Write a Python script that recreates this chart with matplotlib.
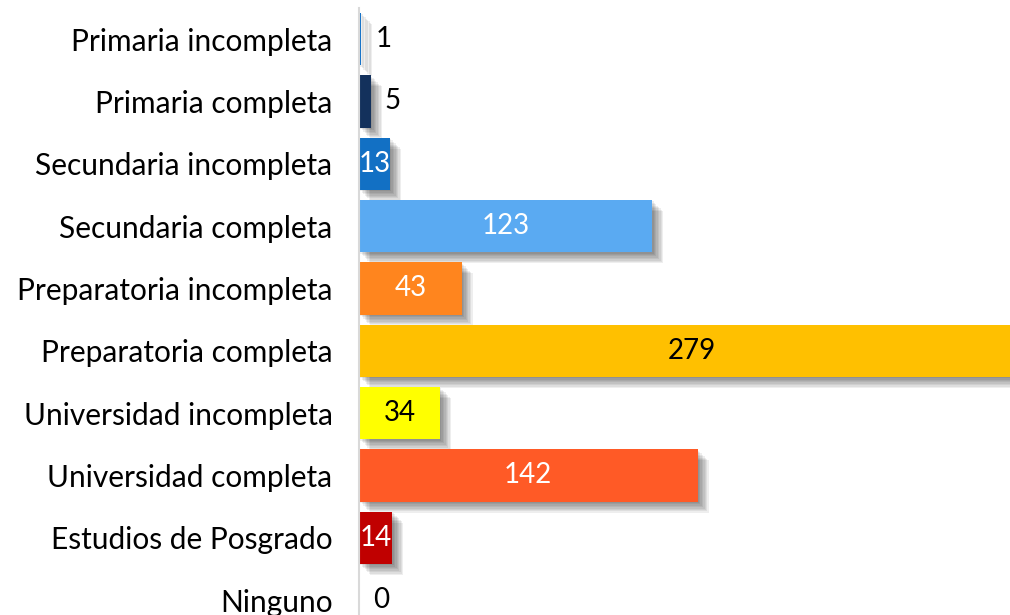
import matplotlib
matplotlib.use('Agg')
from matplotlib import pyplot as plt
from matplotlib import patheffects as pe

plt.rcParams['font.family'] = ['Lato', 'DejaVu Sans']

categories = ['Primaria incompleta', 'Primaria completa', 'Secundaria incompleta',
              'Secundaria completa', 'Preparatoria incompleta', 'Preparatoria completa',
              'Universidad incompleta', 'Universidad completa', 'Estudios de Posgrado',
              'Ninguno']
values = [1, 5, 13, 123, 43, 279, 34, 142, 14, 0]
colors = ['#1170C8', '#13315C', '#1270C4', '#5AAAF2', '#FF851E', '#FFC000',
          '#FFFF00', '#FF5A26', '#C00000', '#FFFFFF']
label_colors = ['black', 'black', 'white', 'white', 'white', 'black',
                'black', 'white', 'white', 'black']

fig = plt.figure(figsize=(10.1, 6.15), dpi=100)
ax = fig.add_axes([359 / 1010, 0, 651 / 1010, 607 / 615])

# soft drop shadow, faked with several offset copies
shadow = []
for d in range(1, 9):
    shadow.append(pe.SimplePatchShadow(offset=(d, -d), shadow_rgbFace='black', alpha=0.065))
shadow.append(pe.Normal())

pos = list(range(len(categories)))
bars = ax.barh(pos, values, height=0.84, color=colors, zorder=2)
for b, v in zip(bars, values):
    if v > 0:
        b.set_path_effects(shadow)
        b.set_linewidth(0)

for i, (v, c) in enumerate(zip(values, label_colors)):
    if v >= 10:
        ax.text(v / 2, i, str(v), ha='center', va='center', fontsize=20, color=c, zorder=3)
    else:
        ax.annotate(str(v), xy=(v, i), xytext=(14, 0), textcoords='offset pixels',
                    ha='left', va='center', fontsize=20, color='black')

ax.set_xlim(0, 273)
ax.set_ylim(9.24, -0.5)
ax.set_yticks(pos)
ax.set_yticklabels(categories, fontsize=21.5)
ax.tick_params(axis='y', length=0, pad=19)
ax.set_xticks([])
for s in ['top', 'right', 'bottom']:
    ax.spines[s].set_visible(False)
ax.spines['left'].set_color('#D9D9D9')
ax.spines['left'].set_linewidth(1.5)

fig.savefig('out.png', dpi=100)
